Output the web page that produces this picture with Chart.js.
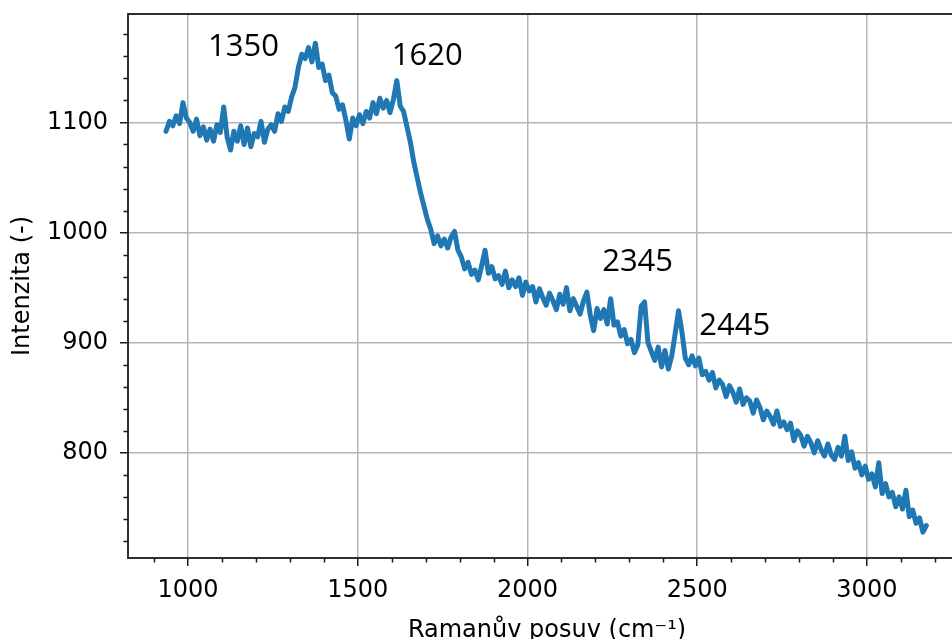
<!DOCTYPE html>
<html>
<head>
<meta charset="utf-8">
<script src="https://cdn.jsdelivr.net/npm/chart.js@4.4.1/dist/chart.umd.min.js"></script>
<style>
  html, body { margin: 0; padding: 0; background: #fff; width: 952px; height: 639px; overflow: hidden; }
  canvas { display: block; }
</style>
</head>
<body>
<canvas id="ramanChart" width="990" height="660"></canvas>
<script>
// Raman spectrum (cm^-1 -> intensity)
const wavenumbers = [
  935, 945, 955, 965, 975, 985, 995, 1005, 1015, 1025, 1035, 1045, 1055, 1065, 1075, 1085, 1095, 1105, 1115, 1125,
  1135, 1145, 1155, 1165, 1175, 1185, 1195, 1205, 1215, 1225, 1235, 1245, 1255, 1265, 1275, 1285, 1295, 1305, 1315, 1325,
  1335, 1345, 1355, 1365, 1375, 1385, 1395, 1405, 1415, 1425, 1435, 1445, 1455, 1465, 1475, 1485, 1495, 1505, 1515, 1525,
  1535, 1545, 1555, 1565, 1575, 1585, 1595, 1605, 1615, 1625, 1635, 1645, 1655, 1665, 1675, 1685, 1695, 1705, 1715, 1725,
  1735, 1745, 1755, 1765, 1775, 1785, 1795, 1805, 1815, 1825, 1835, 1845, 1855, 1865, 1875, 1885, 1895, 1905, 1915, 1925,
  1935, 1945, 1955, 1965, 1975, 1985, 1995, 2005, 2015, 2025, 2035, 2045, 2055, 2065, 2075, 2085, 2095, 2105, 2115, 2125,
  2135, 2145, 2155, 2165, 2175, 2185, 2195, 2205, 2215, 2225, 2235, 2245, 2255, 2265, 2275, 2285, 2295, 2305, 2315, 2325,
  2335, 2345, 2355, 2365, 2375, 2385, 2395, 2405, 2415, 2425, 2435, 2445, 2455, 2465, 2475, 2485, 2495, 2505, 2515, 2525,
  2535, 2545, 2555, 2565, 2575, 2585, 2595, 2605, 2615, 2625, 2635, 2645, 2655, 2665, 2675, 2685, 2695, 2705, 2715, 2725,
  2735, 2745, 2755, 2765, 2775, 2785, 2795, 2805, 2815, 2825, 2835, 2845, 2855, 2865, 2875, 2885, 2895, 2905, 2915, 2925,
  2935, 2945, 2955, 2965, 2975, 2985, 2995, 3005, 3015, 3025, 3035, 3045, 3055, 3065, 3075, 3085, 3095, 3105, 3115, 3125,
  3135, 3145, 3155, 3165, 3175
];
const intensity = [
  1092, 1101, 1097, 1106, 1099, 1118, 1104, 1100, 1092, 1103, 1088, 1096, 1084, 1094, 1083, 1098, 1091, 1114, 1087, 1075,
  1092, 1083, 1097, 1080, 1095, 1078, 1090, 1087, 1101, 1082, 1094, 1098, 1092, 1108, 1101, 1114, 1110, 1123, 1132, 1150,
  1162, 1158, 1168, 1155, 1172, 1150, 1153, 1138, 1143, 1127, 1124, 1112, 1116, 1102, 1085, 1104, 1097, 1107, 1099, 1110,
  1104, 1118, 1108, 1122, 1113, 1120, 1109, 1121, 1138, 1115, 1110, 1096, 1082, 1064, 1050, 1036, 1024, 1012, 1003, 990,
  997, 988, 994, 986, 996, 1001, 984, 978, 967, 973, 962, 966, 957, 970, 984, 963, 969, 958, 961, 953,
  965, 950, 957, 951, 959, 943, 955, 947, 951, 937, 949, 941, 934, 945, 938, 930, 944, 935, 950, 929,
  940, 933, 926, 938, 946, 925, 911, 931, 922, 930, 917, 940, 916, 919, 906, 912, 899, 903, 891, 898,
  933, 937, 900, 892, 884, 896, 878, 893, 876, 888, 908, 929, 910, 886, 880, 888, 879, 886, 871, 874,
  866, 873, 859, 866, 862, 851, 861, 855, 846, 858, 844, 850, 847, 836, 848, 841, 830, 838, 833, 826,
  838, 824, 828, 821, 827, 811, 820, 816, 806, 815, 809, 800, 811, 803, 797, 808, 798, 794, 805, 797,
  815, 793, 801, 786, 791, 780, 788, 776, 781, 769, 791, 763, 772, 760, 764, 751, 760, 749, 766, 742,
  748, 736, 741, 728, 734
];

const xTickValues = [1000, 1500, 2000, 2500, 3000];
const yTickValues = [800, 900, 1000, 1100];

// peak annotations (text anchored at left / baseline, in data units)
const peakLabels = ["1350", "1620", "2345", "2445"];
const peakLabelX = [1059, 1600, 2220, 2506];
const peakLabelY = [1160, 1152, 965, 907];

const CANVAS_W = 990;
const CANVAS_H = 660;
const PLOT_LEFT = 128;
const PLOT_TOP = 14;
const PLOT_RIGHT = 966;
const PLOT_BOTTOM = 558;

const tickFont = { family: "DejaVu Sans", size: 24, lineHeight: 1.2 };

const frameAndMinorTicks = {
  id: "frameAndMinorTicks",
  afterDatasetsDraw(chart) {
    const { ctx, chartArea, scales } = chart;
    ctx.save();
    ctx.strokeStyle = "#1a1a1a";
    ctx.lineWidth = 1.5;
    ctx.beginPath();
    for (let v = 900; v <= scales.x.max; v += 100) {
      if (v % 500 === 0) continue;
      const px = Math.round(scales.x.getPixelForValue(v)) + 0.5;
      ctx.moveTo(px, chartArea.bottom);
      ctx.lineTo(px, chartArea.bottom + 4.5);
    }
    for (let v = 720; v <= scales.y.max; v += 20) {
      if (v % 100 === 0) continue;
      const py = Math.round(scales.y.getPixelForValue(v)) + 0.5;
      ctx.moveTo(chartArea.left, py);
      ctx.lineTo(chartArea.left - 4.5, py);
    }
    ctx.stroke();

    ctx.lineWidth = 1.8;
    ctx.strokeRect(chartArea.left, chartArea.top, chartArea.right - chartArea.left, chartArea.bottom - chartArea.top);
    ctx.restore();
  },
};

const peakText = {
  id: "peakText",
  afterDraw(chart) {
    const { ctx, scales } = chart;
    ctx.save();
    ctx.fillStyle = "#000";
    ctx.font = "31px 'Open Sans'";
    ctx.textAlign = "left";
    ctx.textBaseline = "alphabetic";
    peakLabels.forEach((label, i) => {
      ctx.fillText(label, scales.x.getPixelForValue(peakLabelX[i]), scales.y.getPixelForValue(peakLabelY[i]));
    });
    ctx.restore();
  },
};

const ctx = document.getElementById("ramanChart").getContext("2d");

new Chart(ctx, {
  type: "line",
  data: {
    datasets: [
      {
        data: wavenumbers.map((x, i) => ({ x, y: intensity[i] })),
        borderColor: "#1f77b4",
        borderWidth: 5,
        pointRadius: 0,
        tension: 0,
        fill: false,
        borderJoinStyle: "round",
        borderCapStyle: "round",
      },
    ],
  },
  options: {
    responsive: false,
    animation: false,
    devicePixelRatio: 1,
    layout: {
      padding: { left: 0, top: PLOT_TOP, right: CANVAS_W - PLOT_RIGHT, bottom: 0 },
    },
    plugins: {
      legend: { display: false },
      tooltip: { enabled: false },
    },
    scales: {
      x: {
        type: "linear",
        min: 823,
        max: 3292,
        afterBuildTicks: (scale) => {
          scale.ticks = xTickValues.map((value) => ({ value }));
        },
        afterFit: (scale) => {
          scale.height = CANVAS_H - PLOT_BOTTOM;
          scale.paddingLeft = 0;
          scale.paddingRight = 0;
        },
        ticks: {
          color: "#000",
          font: tickFont,
          padding: 10,
          maxRotation: 0,
          autoSkip: false,
          callback: (value) => String(value),
        },
        grid: {
          color: "#b5b5b5",
          lineWidth: 1.5,
          tickColor: "#1a1a1a",
          tickLength: 8,
        },
        border: { display: false },
        title: {
          display: true,
          text: "Ramanův posuv (cm⁻¹)",
          color: "#000",
          font: tickFont,
          padding: { top: 0, bottom: 15 },
        },
      },
      y: {
        type: "linear",
        min: 704.5,
        max: 1198.5,
        afterBuildTicks: (scale) => {
          scale.ticks = yTickValues.map((value) => ({ value }));
        },
        afterFit: (scale) => {
          scale.width = PLOT_LEFT;
          scale.paddingTop = 0;
          scale.paddingBottom = 0;
        },
        ticks: {
          color: "#000",
          font: tickFont,
          padding: 12,
          autoSkip: false,
          callback: (value) => String(value),
        },
        grid: {
          color: "#b5b5b5",
          lineWidth: 1.5,
          tickColor: "#1a1a1a",
          tickLength: 8,
        },
        border: { display: false },
        title: {
          display: true,
          text: "Intenzita (-)",
          color: "#000",
          font: tickFont,
          padding: { top: 8, bottom: 0 },
        },
      },
    },
  },
  plugins: [frameAndMinorTicks, peakText],
});
</script>
</body>
</html>
